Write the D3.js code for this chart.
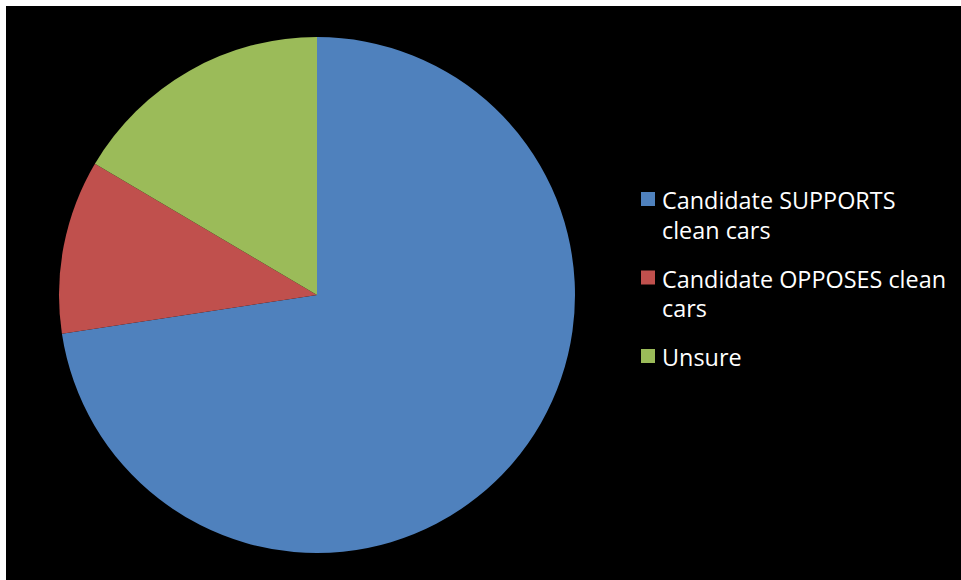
<!DOCTYPE html>
<html lang="en">
<head>
<meta charset="utf-8">
<script src="https://d3js.org/d3.v7.min.js"></script>
<style>
  html, body { margin: 0; padding: 0; background: #fff; }
  svg { display: block; }
  .legend text { font-family: "Open Sans", sans-serif; font-size: 23.4px; fill: #fff; }
</style>
</head>
<body>
<div id="chart"></div>
<script>
// data
const categories = ["Candidate SUPPORTS clean cars", "Candidate OPPOSES clean cars", "Unsure"];
const values = [72.6, 10.9, 16.5];
const colours = ["#4F81BD", "#C0504D", "#9BBB59"];

const width = 961, height = 580;

const svg = d3.select("#chart")
  .append("svg")
    .attr("width", width)
    .attr("height", height);

// black plot area, white frame on top and left
svg.append("rect")
  .attr("x", 6).attr("y", 6)
  .attr("width", width - 6).attr("height", height - 6)
  .attr("fill", "#000");

const radius = 258;
const pieG = svg.append("g")
  .attr("transform", "translate(317,295)");

const pie = d3.pie().sort(null).value(d => d.value);
const arc = d3.arc().innerRadius(0).outerRadius(radius);

const rows = categories.map((c, i) => ({ name: c, value: values[i] }));
const colour = d3.scaleOrdinal().domain(categories).range(colours);

pieG.selectAll("path")
  .data(pie(rows))
  .join("path")
    .attr("d", arc)
    .attr("fill", d => colour(d.data.name));

// legend
const legend = svg.append("g").attr("class", "legend")
  .attr("transform", "translate(641,0)");

const maxW = 290, lineH = 29.5;
let y = 209;
categories.forEach(name => {
  const item = legend.append("g");
  const t = item.append("text").attr("x", 21).attr("y", y);
  // wrap words into lines that fit maxW
  const words = name.split(" ");
  let line = [], tspan = t.append("tspan").attr("x", 21).attr("y", y);
  let lines = 1;
  words.forEach(w => {
    line.push(w);
    tspan.text(line.join(" "));
    if (tspan.node().getComputedTextLength() > maxW && line.length > 1) {
      line.pop();
      tspan.text(line.join(" "));
      line = [w];
      tspan = t.append("tspan").attr("x", 21).attr("y", y + lines * lineH).text(w);
      lines++;
    }
  });
  item.append("rect")
    .attr("x", 0).attr("y", y - 17)
    .attr("width", 14).attr("height", 14)
    .attr("fill", colour(name));
  y += (lines - 1) * lineH + 49;
});
</script>
</body>
</html>
